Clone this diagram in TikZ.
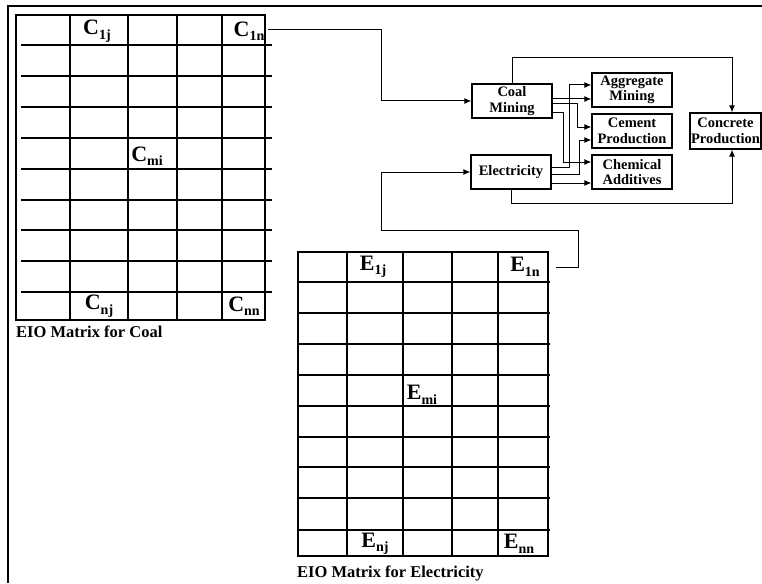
\documentclass[tikz,border=0pt]{standalone}
\usepackage{fontspec}
\setmainfont{Liberation Serif}
\usepackage{tikz}
\usetikzlibrary{positioning, calc, arrows.meta}
\newcommand{\Entry}[2]{#1\raisebox{-4.5pt}{\fontsize{14}{14}\selectfont #2}}

\begin{document}
\begin{tikzpicture}[x=1pt, y=-1pt,
    proc/.style={draw, line width=1.3pt, minimum width=80pt, minimum height=34pt, inner sep=1pt, align=center, font=\fontsize{14.5}{15.5}\selectfont\bfseries},
    flow/.style={line width=1pt, -{Latex[length=7pt,width=6pt]}},
    mline/.style={line width=1.2pt},
    entry/.style={inner sep=0pt, font=\fontsize{22}{22}\selectfont\bfseries},
    caption/.style={anchor=west, inner sep=0pt, font=\fontsize{16.5}{16.5}\selectfont\bfseries}]
    \useasboundingbox (0,0) rectangle (762,583);

    % Frame
    \draw[line width=2.5pt] (8,583) -- (8,6) -- (762,6);

    % EIO matrix for coal
    \draw[mline] (16,15) rectangle (265,320);
    \foreach \x in {70,128,177,222} \draw[mline] (\x,15) -- (\x,320);
    \foreach \y in {45,76,107,138,169,200,230,261,292} \draw[mline] (21,\y) -- (272,\y);
    \node[entry] (c1j) at (97,31) {\Entry{C}{1j}};
    \node[entry] (c1n) at (249,31) {\Entry{C}{1n}};
    \node[entry] (cmi) at (147,156) {\Entry{C}{mi}};
    \node[entry] (cnj) at (99,306) {\Entry{C}{nj}};
    \node[entry] (cnn) at (244,306) {\Entry{C}{nn}};
    \node[caption] (coalcap) at (16,332) {EIO Matrix for Coal};
    \coordinate (c1nout) at (268,30);

    % EIO matrix for electricity
    \draw[mline] (298,252) rectangle (548,556);
    \foreach \x in {347,403,452,498} \draw[mline] (\x,252) -- (\x,556);
    \foreach \y in {282,313,344,375,406,437,467,498,530} \draw[mline] (298,\y) -- (550,\y);
    \node[entry] (e1j) at (373,267) {\Entry{E}{1j}};
    \node[entry] (e1n) at (525,267) {\Entry{E}{1n}};
    \node[entry] (emi) at (422,395) {\Entry{E}{mi}};
    \node[entry] (enj) at (375,544) {\Entry{E}{nj}};
    \node[entry] (enn) at (519,544) {\Entry{E}{nn}};
    \node[caption] (eleccap) at (297,573) {EIO Matrix for Electricity};
    \coordinate (e1nout) at (556,267);

    % Sectors
    \node[proc] (coal) at (512,101) {Coal\\Mining};
    \node[proc] (elec) at (511,172) {Electricity};
    \node[proc] (agg) at (632,90) {Aggregate\\Mining};
    \node[proc] (cement) at (632,131) {Cement\\Production};
    \node[proc] (chem) at (632,172) {Chemical\\Additives};
    \node[proc, minimum width=71pt, minimum height=36pt, inner sep=0pt] (concrete) at (725.5,131) {Concrete\\Production};

    % Matrices to sectors
    \draw[flow] (c1nout) -- (381,30) |- (coal.west);
    \draw[flow] (e1nout) -- (578,267) -- (578,230) -- (381,230) |- (elec.west);

    % Coal mining outputs
    \draw[flow] ($(coal.east)+(0,-2)$) -- ($(agg.west)+(0,9)$);
    \draw[flow] ($(coal.east)+(0,3)$) -- ++(25,0) |- ($(cement.west)+(0,-4)$);
    \draw[flow] ($(coal.east)+(0,12)$) -- ++(11,0) |- ($(chem.west)+(0,-10)$);

    % Electricity outputs
    \draw[flow] ($(elec.east)+(0,-5)$) -- ++(18,0) |- ($(agg.west)+(0,-5)$);
    \draw[flow] ($(elec.east)+(0,2)$) -- ++(28,0) |- ($(cement.west)+(0,9)$);
    \draw[flow] ($(elec.east)+(0,11)$) -- ($(chem.west)+(0,11)$);

    % Direct inputs to concrete
    \draw[flow] (coal.north) |- (732,58) -- ([xshift=6.5pt]concrete.north);
    \draw[flow] (elec.south) |- (732,203) -- ([xshift=6.5pt]concrete.south);
\end{tikzpicture}
\end{document}
